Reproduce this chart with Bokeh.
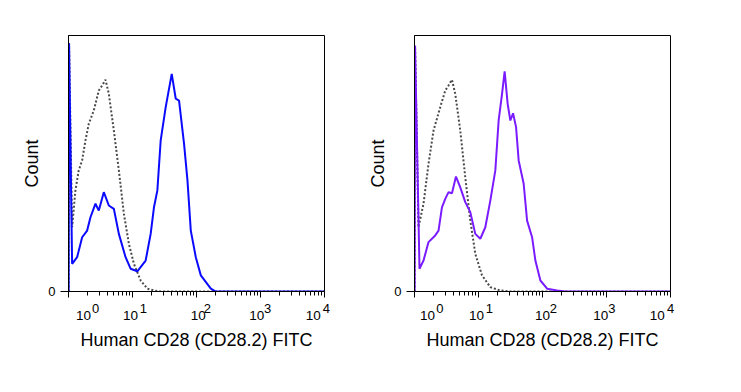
from bokeh.plotting import figure
from bokeh.layouts import row
from bokeh.models import Range1d, FixedTicker, LogAxis
from bokeh.embed import file_html
from bokeh.resources import INLINE

# ---------------- data ----------------
x_title = "Human CD28 (CD28.2) FITC"
y_title = "Count"
decade_ticks = [1, 10, 100, 1000, 10000]
decade_base = "10"
decade_exponents = ["0", "1", "2", "3", "4"]
minor_ticks = [m * d for d in [1, 10, 100, 1000] for m in range(2, 10)]
count_ticks = [0]

# left panel: isotype control (dotted grey) and CD28 stained (blue)
left_ctrl_x = [1.005, 1.02, 1.139, 1.283, 1.445, 1.634, 1.840, 2.073, 2.483, 2.975, 3.363,
               3.788, 4.267, 5.110, 6.121, 7.333, 8.781, 10.52, 13.40, 17.06, 21.65, 27.57, 10000]
left_ctrl_y = [0, 97, 25.1, 39.5, 47.3, 51.2, 59.0, 65.5, 70.7, 78.5, 80.5,
               82.7, 77.2, 62.9, 47.3, 30.4, 18.6, 10.8, 4.3, 1.1, 0.4, 0, 0]

left_stain_x = [1.005, 1.02, 1.139, 1.364, 1.634, 1.957, 2.204, 2.640, 2.975, 3.562, 4.267,
                5.110, 6.121, 7.794, 9.338, 11.89, 16.05, 19.22, 21.65, 24.47, 27.57,
                33.02, 41.03, 47.38, 53.38, 63.91, 72.26, 81.42, 97.5, 116.8, 167.5, 200, 10000]
left_stain_y = [0, 97, 10.8, 13.4, 21.2, 23.8, 29.0, 34.3, 31.6, 38.8, 33.6,
                32.3, 22.5, 13.4, 8.9, 7.9, 12.1, 22.5, 32.9, 39.5, 59.0,
                72.0, 85.0, 75.3, 74.6, 57.7, 43.4, 23.8, 13.4, 6.3, 1.1, 0, 0]

# right panel: isotype control (dotted grey) and CD28 stained (violet)
right_ctrl_x = [1.005, 1.02, 1.155, 1.383, 1.656, 1.983, 2.525, 3.023, 3.405, 3.849, 4.335,
                5.190, 6.215, 7.441, 8.913, 11.34, 15.30, 21.94, 31.44, 10000]
right_ctrl_y = [0, 96, 25.1, 34.3, 49.9, 62.9, 72.0, 78.5, 80.5, 82.7, 77.2,
                62.9, 44.6, 27.7, 14.7, 6.3, 1.7, 0.4, 0, 0]

right_stain_x = [1.005, 1.02, 1.197, 1.383, 1.656, 2.108, 2.375, 2.685, 3.023, 3.405, 3.849,
                 4.445, 5.190, 6.215, 7.441, 8.913, 10.67, 12.78, 15.30, 18.32, 20.64,
                 23.33, 25.62, 28.54, 31.44, 34.67, 38.63, 42.42, 50.79, 57.42, 68.74,
                 77.42, 92.7, 118.0, 169.2, 228, 10000]
right_stain_y = [0, 96, 8.9, 12.1, 19.3, 21.9, 23.8, 32.9, 36.2, 38.8, 38.4,
                 44.9, 40.7, 34.9, 31.0, 22.5, 20.6, 25.1, 35.5, 47.3, 66.8,
                 77.2, 86.0, 73.3, 66.8, 69.6, 64.2, 51.2, 42.1, 27.7, 21.2,
                 12.1, 4.3, 1.1, 0.4, 0, 0]

FONT = "Liberation Sans"
NB = "\u00a0"


def padded(text, shift):
    # shift > 0: move label right (pad left); shift < 0: move left (pad right)
    return NB * shift + text if shift >= 0 else text + NB * (-shift)


def make_panel(ctrl_x, ctrl_y, st_x, st_y, color, width, b_left, b_right,
               base_shift, exp_shift):
    p = figure(width=width, height=361, x_axis_type="log",
               x_range=Range1d(1, 10000), y_range=Range1d(0, 100),
               output_backend="svg", toolbar_location=None,
               min_border_left=b_left, min_border_right=b_right,
               min_border_top=35, min_border_bottom=70)
    p.grid.visible = False
    p.outline_line_color = "black"
    p.outline_line_width = 1
    p.background_fill_color = "white"
    p.border_fill_color = "white"

    p.line(ctrl_x, ctrl_y, line_color="#4a4a4a", line_width=2, line_dash="2 2")
    p.line(st_x, st_y, line_color=color, line_width=2)

    # x axis: ticks and the "10" of each decade label
    xa = p.xaxis[0]
    xa.ticker = FixedTicker(ticks=decade_ticks, minor_ticks=minor_ticks)
    xa.major_label_overrides = {t: padded(decade_base, s) for t, s in zip(decade_ticks, base_shift)}
    xa.major_label_text_font = FONT
    xa.major_label_text_font_size = "13.5px"
    xa.major_label_text_color = "black"
    xa.major_label_standoff = 10
    xa.major_tick_out = 6
    xa.major_tick_in = 0
    xa.minor_tick_out = 4
    xa.minor_tick_in = 0
    xa.axis_line_color = "black"
    xa.major_tick_line_color = "black"
    xa.minor_tick_line_color = "black"

    # second (label-only) axis: the superscript exponents, plus the axis title
    xe = LogAxis(ticker=FixedTicker(ticks=decade_ticks, minor_ticks=[]))
    xe.major_label_overrides = {t: padded(e, s) for t, e, s in zip(decade_ticks, decade_exponents, exp_shift)}
    xe.major_label_text_font = FONT
    xe.major_label_text_font_size = "13px"
    xe.major_label_text_color = "black"
    xe.major_label_standoff = -25
    xe.major_tick_out = 0
    xe.major_tick_in = 0
    xe.minor_tick_out = 0
    xe.axis_line_color = None
    xe.major_tick_line_color = None
    xe.minor_tick_line_color = None
    xe.axis_label = x_title
    xe.axis_label_text_font = FONT
    xe.axis_label_text_font_size = "18px"
    xe.axis_label_text_font_style = "normal"
    xe.axis_label_text_color = "black"
    xe.axis_label_standoff = 11
    p.add_layout(xe, "below")

    # y axis
    ya = p.yaxis[0]
    ya.ticker = FixedTicker(ticks=count_ticks, minor_ticks=[])
    ya.major_label_text_font = FONT
    ya.major_label_text_font_size = "13px"
    ya.major_label_text_color = "black"
    ya.major_label_standoff = 5
    ya.major_tick_out = 8
    ya.major_tick_in = 0
    ya.axis_line_color = "black"
    ya.axis_label = y_title
    ya.axis_label_text_font = FONT
    ya.axis_label_text_font_size = "18px"
    ya.axis_label_text_font_style = "normal"
    ya.axis_label_text_color = "black"
    ya.axis_label_standoff = 3
    return p


p1 = make_panel(left_ctrl_x, left_ctrl_y, left_stain_x, left_stain_y, "#0a0aff",
                354, 68, 30, [8, -1, 1, -2, -6], [15, 6, 6, 4, 1])
p2 = make_panel(right_ctrl_x, right_ctrl_y, right_stain_x, right_stain_y, "#7a1cff",
                376, 60, 60, [7, -1, 0, -3, -7], [14, 6, 6, 3, 0])

layout = row(p1, p2)
open("out.html", "w").write(file_html(layout, INLINE))
